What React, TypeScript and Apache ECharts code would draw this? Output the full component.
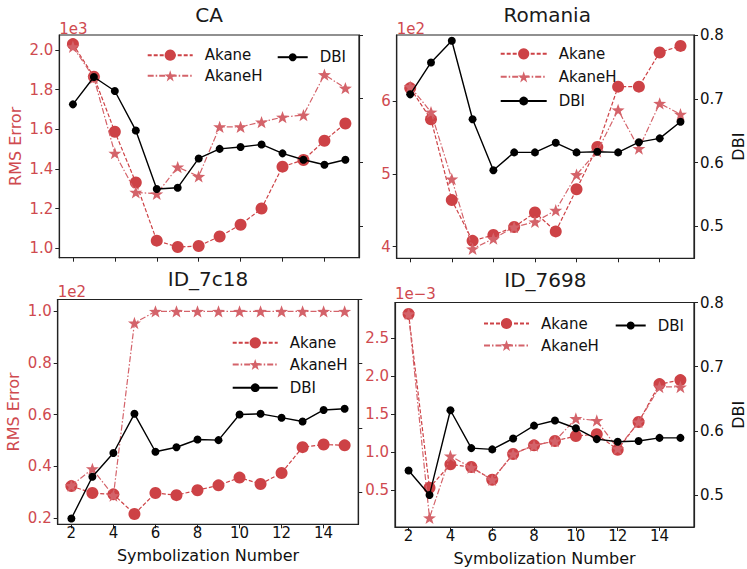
import React, { useEffect, useRef } from 'react';
import * as echarts from 'echarts';

// ---------------- data ----------------
const X = [2, 3, 4, 5, 6, 7, 8, 9, 10, 11, 12, 13, 14, 15];
const X_TICKS = [2, 4, 6, 8, 10, 12, 14];
const DBI_TICKS = [0.5, 0.6, 0.7, 0.8];

// CA (RMS error in units of 1e3)
const CA_AKANE = [2.03, 1.866, 1.588, 1.332, 1.039, 1.007, 1.012, 1.06, 1.119, 1.201, 1.412, 1.446, 1.543, 1.63];
const CA_AKANEH = [2.017, 1.86, 1.48, 1.283, 1.275, 1.41, 1.363, 1.613, 1.613, 1.637, 1.662, 1.672, 1.876, 1.808];
const CA_DBI = [0.691, 0.734, 0.712, 0.65, 0.558, 0.56, 0.606, 0.621, 0.624, 0.628, 0.614, 0.604, 0.596, 0.604];
const CA_TICKS = [1.0, 1.2, 1.4, 1.6, 1.8, 2.0];

// Romania (RMS error in units of 1e2)
const RO_AKANE = [6.18, 5.75, 4.64, 4.08, 4.16, 4.27, 4.47, 4.21, 4.79, 5.37, 6.2, 6.2, 6.67, 6.76];
const RO_AKANEH = [6.2, 5.85, 4.93, 3.97, 4.11, 4.27, 4.34, 4.5, 4.99, 5.31, 5.88, 5.35, 5.97, 5.82];
const RO_DBI = [0.707, 0.757, 0.791, 0.668, 0.588, 0.616, 0.616, 0.631, 0.616, 0.617, 0.616, 0.632, 0.638, 0.664];
const RO_TICKS = [4, 5, 6];

// ID_7c18 (RMS error in units of 1e2)
const C18_AKANE = [0.323, 0.296, 0.291, 0.215, 0.296, 0.288, 0.307, 0.326, 0.356, 0.331, 0.374, 0.474, 0.484, 0.481];
const C18_AKANEH = [0.325, 0.39, 0.286, 0.955, 1.0, 1.0, 1.0, 1.0, 1.0, 1.0, 1.0, 1.0, 1.0, 1.0];
const C18_DBI = [0.459, 0.524, 0.561, 0.622, 0.563, 0.57, 0.582, 0.581, 0.621, 0.622, 0.616, 0.61, 0.628, 0.63];
const C18_TICKS = [0.2, 0.4, 0.6, 0.8, 1.0];

// ID_7698 (RMS error in units of 1e-3)
const D98_AKANE = [2.82, 0.535, 0.843, 0.808, 0.64, 0.98, 1.093, 1.15, 1.216, 1.238, 1.036, 1.4, 1.898, 1.95];
const D98_AKANEH = [2.82, 0.14, 0.953, 0.8, 0.64, 0.98, 1.09, 1.15, 1.445, 1.42, 1.05, 1.4, 1.86, 1.86];
const D98_DBI = [0.538, 0.5, 0.632, 0.573, 0.571, 0.588, 0.608, 0.616, 0.604, 0.587, 0.583, 0.584, 0.589, 0.589];
const D98_TICKS = [0.5, 1.0, 1.5, 2.0, 2.5];

// ---------------- style ----------------
const FONT = 'DejaVu Sans';
const RED_TEXT = '#cf4a4f';
const AKANE_COLOR = '#cd4246';
const AKANEH_COLOR = '#d4636a';
const SPINE = '#222';
const STAR =
  'path://M0,-10L2.35,-3.24L9.51,-3.09L3.8,1.24L5.88,8.09L0,4L-5.88,8.09L-3.8,1.24L-9.51,-3.09L-2.35,-3.24Z';

type LegendPos = { name: string; left: number; cy: number; w: number; h: number };

const PANELS = [
  {
    title: 'CA', offset: '1e3', akane: CA_AKANE, akaneH: CA_AKANEH, dbi: CA_DBI,
    ticks: CA_TICKS, dec: 1, yMin: 0.953, yMax: 2.076,
    grid: { left: 59.3, top: 35, width: 299.7, height: 222.7 }, col: 0, row: 0,
    titleY: 14.5, offsetY: 28.5,
    legends: [
      { name: 'Akane', left: 146.7, cy: 54.7, w: 45, h: 14 },
      { name: 'AkaneH', left: 146.7, cy: 75.3, w: 45, h: 14 },
      { name: 'DBI', left: 276.7, cy: 54.7, w: 30, h: 10 },
    ] as LegendPos[],
  },
  {
    title: 'Romania', offset: '1e2', akane: RO_AKANE, akaneH: RO_AKANEH, dbi: RO_DBI,
    ticks: RO_TICKS, dec: 0, yMin: 3.84, yMax: 6.91,
    grid: { left: 396.7, top: 35, width: 301, height: 223.3 }, col: 1, row: 0,
    titleY: 14.5, offsetY: 28.5,
    legends: [
      { name: 'Akane', left: 499.7, cy: 53.3, w: 46, h: 14 },
      { name: 'AkaneH', left: 499.7, cy: 76.3, w: 46, h: 14 },
      { name: 'DBI', left: 499.7, cy: 99, w: 46, h: 11 },
    ] as LegendPos[],
  },
  {
    title: 'ID_7c18', offset: '1e2', akane: C18_AKANE, akaneH: C18_AKANEH, dbi: C18_DBI,
    ticks: C18_TICKS, dec: 1, yMin: 0.175, yMax: 1.046,
    grid: { left: 57.7, top: 299.5, width: 300.6, height: 224.8 }, col: 0, row: 1,
    titleY: 279, offsetY: 292.3,
    legends: [
      { name: 'Akane', left: 231.7, cy: 342.3, w: 45, h: 14 },
      { name: 'AkaneH', left: 231.7, cy: 364, w: 45, h: 14 },
      { name: 'DBI', left: 231.7, cy: 385.7, w: 45, h: 11 },
    ] as LegendPos[],
  },
  {
    title: 'ID_7698', offset: '1e\u22123', akane: D98_AKANE, akaneH: D98_AKANEH, dbi: D98_DBI,
    ticks: D98_TICKS, dec: 1, yMin: 0.02, yMax: 2.97,
    grid: { left: 395, top: 302.5, width: 300.7, height: 224.5 }, col: 1, row: 1,
    titleY: 280, offsetY: 293.5,
    legends: [
      { name: 'Akane', left: 483, cy: 323, w: 45, h: 14 },
      { name: 'AkaneH', left: 483, cy: 345, w: 45, h: 14 },
      { name: 'DBI', left: 614.7, cy: 323, w: 30, h: 10 },
    ] as LegendPos[],
  },
];

function buildOption() {
  const grid: any[] = [];
  const xAxis: any[] = [];
  const yAxis: any[] = [];
  const series: any[] = [];
  const legend: any[] = [];
  const graphic: any[] = [];

  PANELS.forEach((p, i) => {
    grid.push({
      left: p.grid.left, top: p.grid.top, width: p.grid.width, height: p.grid.height,
      show: true, borderColor: SPINE, borderWidth: 1.2, backgroundColor: 'transparent',
    });
    const showX = p.row === 1;
    xAxis.push({
      type: 'value', gridIndex: i, min: 1.35, max: 15.65,
      axisLine: { show: true, onZero: false, lineStyle: { color: SPINE, width: 1.2 } },
      axisTick: { show: true, inside: false, length: 4, customValues: X_TICKS, lineStyle: { color: SPINE, width: 1 } },
      axisLabel: {
        show: showX, customValues: X_TICKS, fontSize: 15, fontFamily: FONT, color: '#111', margin: 1,
      },
      splitLine: { show: false },
      name: showX ? 'Symbolization Number' : '',
      nameLocation: 'middle', nameGap: 23.5,
      nameTextStyle: { fontSize: 16, fontFamily: FONT, color: '#111' },
    });
    yAxis.push({
      type: 'value', gridIndex: i, position: 'left', min: p.yMin, max: p.yMax,
      axisLine: { show: true, onZero: false, lineStyle: { color: SPINE, width: 1.2 } },
      axisTick: { show: true, inside: false, length: 4, customValues: p.ticks, lineStyle: { color: SPINE, width: 1 } },
      axisLabel: {
        show: true, customValues: p.ticks, fontSize: 15, fontFamily: FONT, color: RED_TEXT, margin: 6,
        formatter: (v: number) => v.toFixed(p.dec),
      },
      splitLine: { show: false },
      name: p.col === 0 ? 'RMS Error' : '',
      nameLocation: 'middle', nameGap: 36, nameRotate: 90,
      nameTextStyle: { fontSize: 16, fontFamily: FONT, color: RED_TEXT },
    });
    yAxis.push({
      type: 'value', gridIndex: i, position: 'right', min: 0.45, max: 0.8,
      axisLine: { show: true, onZero: false, lineStyle: { color: SPINE, width: 1.2 } },
      axisTick: { show: true, inside: false, length: 4, customValues: DBI_TICKS, lineStyle: { color: SPINE, width: 1 } },
      axisLabel: {
        show: p.col === 1, customValues: DBI_TICKS, fontSize: 15, fontFamily: FONT, color: '#111', margin: 6,
        formatter: (v: number) => v.toFixed(1),
      },
      splitLine: { show: false },
      name: p.col === 1 ? 'DBI' : '',
      nameLocation: 'middle', nameGap: 36, nameRotate: 90,
      nameTextStyle: { fontSize: 16, fontFamily: FONT, color: '#111' },
    });

    series.push({
      type: 'line', name: 'Akane', xAxisIndex: i, yAxisIndex: 2 * i,
      data: X.map((x, k) => [x, p.akane[k]]),
      symbol: 'circle', symbolSize: 12,
      itemStyle: { color: AKANE_COLOR },
      lineStyle: { color: AKANE_COLOR, width: 1.2, type: [4, 2] },
      z: 2,
    });
    series.push({
      type: 'line', name: 'AkaneH', xAxisIndex: i, yAxisIndex: 2 * i,
      data: X.map((x, k) => [x, p.akaneH[k]]),
      symbol: STAR, symbolSize: 13, symbolKeepAspect: true,
      itemStyle: { color: AKANEH_COLOR },
      lineStyle: { color: AKANEH_COLOR, width: 1.2, type: [6, 2, 1.5, 2] },
      z: 3,
    });
    series.push({
      type: 'line', name: 'DBI', xAxisIndex: i, yAxisIndex: 2 * i + 1,
      data: X.map((x, k) => [x, p.dbi[k]]),
      symbol: 'circle', symbolSize: 8,
      itemStyle: { color: '#000' },
      lineStyle: { color: '#000', width: 1.4, type: 'solid' },
      z: 4,
    });

    p.legends.forEach((lg) => {
      legend.push({
        show: true, data: [lg.name], left: lg.left, top: lg.cy - lg.h / 2,
        padding: 0, itemGap: 0, itemWidth: lg.w, itemHeight: lg.h,
        selectedMode: false,
        textStyle: { fontSize: 15, fontFamily: FONT, color: '#111', padding: [0, 0, 0, 7] },
      });
    });

    const cx = p.grid.left + p.grid.width / 2;
    graphic.push({
      type: 'text', x: cx, y: p.titleY,
      style: { text: p.title, fontSize: 20, fontFamily: FONT, fill: '#1a1a1a', align: 'center', verticalAlign: 'middle' },
    });
    graphic.push({
      type: 'text', x: p.grid.left, y: p.offsetY,
      style: { text: p.offset, fontSize: 15, fontFamily: FONT, fill: RED_TEXT, align: 'left', verticalAlign: 'middle' },
    });
  });

  return {
    animation: false,
    backgroundColor: '#fff',
    textStyle: { fontFamily: FONT },
    grid, xAxis, yAxis, series, legend, graphic,
  };
}

export default function App() {
  const ref = useRef<HTMLDivElement>(null);
  useEffect(() => {
    if (!ref.current) return;
    const chart = echarts.init(ref.current, undefined, { renderer: 'svg' });
    chart.setOption(buildOption() as any);
    return () => chart.dispose();
  }, []);
  return (
    <div
      ref={ref}
      style={{ position: 'fixed', left: 0, top: 0, width: 747, height: 569, background: '#fff' }}
    />
  );
}
